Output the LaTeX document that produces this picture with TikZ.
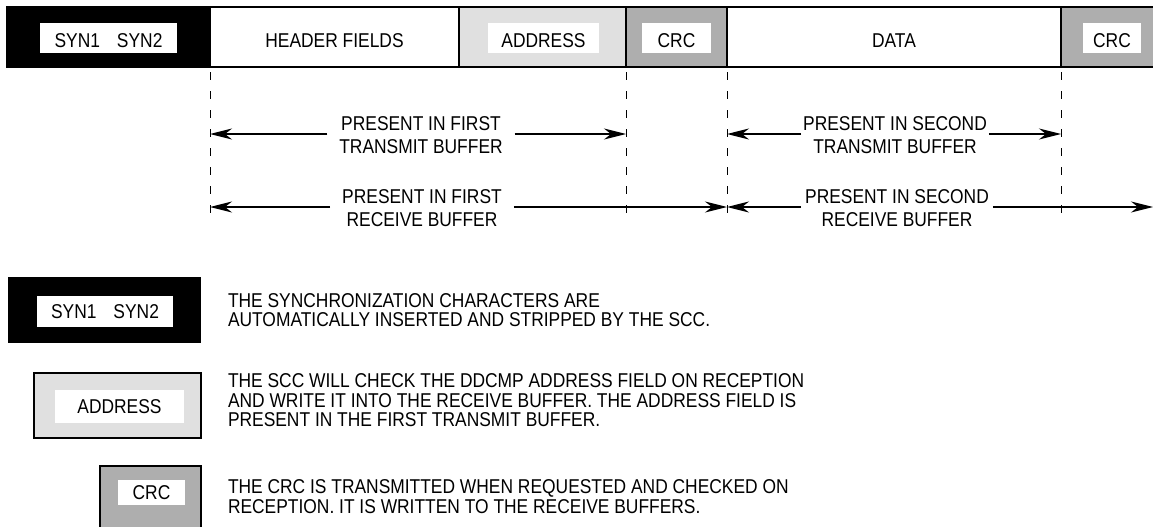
\documentclass[tikz,border=0pt]{standalone}
\usepackage{fontspec}
\setmainfont{Liberation Sans}[FakeStretch=0.87]
\usetikzlibrary{arrows.meta}
\definecolor{lightfill}{HTML}{E0E0E0}
\definecolor{midfill}{HTML}{AEAEAE}
\begin{document}
\begin{tikzpicture}[x=1pt,y=-1pt,
  every node/.style={font=\fontsize{20}{19.5}\selectfont, text=black, inner sep=0pt, outer sep=0pt},
  seg/.style={draw=black, line width=1.8pt, minimum height=60pt, anchor=north west, text height=20.3pt, text depth=0pt},
  whitebox/.style={fill=white, minimum height=30pt, text height=18.3pt, text depth=0pt},
  legbox/.style={draw=black, line width=1.8pt},
  para/.style={anchor=west, align=left},
  lbl/.style={align=center, font=\fontsize{20}{23}\selectfont, fill=white},
  dashline/.style={line width=1pt, dash pattern=on 8pt off 11pt, dash phase=-5pt},
  arr/.style={line width=1.4pt, -{Stealth[length=22pt, width=11pt, inset=7pt]}}
]
\useasboundingbox (0,0) rectangle (1153,527);

% ---- frame bar ----
\node[seg, fill=black, minimum width=203pt] (syn) at (7,7) {};
\node[seg, fill=white, minimum width=249pt] (hdr) at (210,7) {HEADER FIELDS};
\node[seg, fill=lightfill, minimum width=167pt] (adr) at (459,7) {};
\node[seg, fill=midfill, minimum width=101pt] (crca) at (626,7) {};
\node[seg, fill=white, minimum width=334pt] (dat) at (727,7) {DATA};
\node[seg, fill=midfill, minimum width=110pt] (crcb) at (1061,7) {};

\node[whitebox, minimum width=137pt] (synw) at (108.5,38) {SYN1\hspace{17pt}SYN2};
\node[whitebox, minimum width=111pt] (adrw) at (543.5,38) {ADDRESS};
\node[whitebox, minimum width=69pt] (crcaw) at (676.5,38) {CRC};
\node[whitebox, minimum width=58pt] (crcbw) at (1112,38) {CRC};

% ---- dashed boundary lines ----
\coordinate (ab) at (210,223);
\coordinate (bb) at (626,223);
\coordinate (cb) at (727,223);
\coordinate (db) at (1061,223);
\draw[dashline] (hdr.south west) -- (ab);
\draw[dashline] (crca.south west) -- (bb);
\draw[dashline] (dat.south west) -- (cb);
\draw[dashline] (crcb.south west) -- (db);

% ---- arrow end points ----
\coordinate (a1) at (210,134);
\coordinate (b1) at (626,134);
\coordinate (c1) at (727,134);
\coordinate (d1) at (1061,134);
\coordinate (a2) at (210,207);
\coordinate (c2) at (727,207);
\coordinate (e2) at (1153,207);

% ---- buffer labels ----
\node[lbl, inner xsep=12pt] (lt1) at (421,135) {PRESENT IN FIRST\\TRANSMIT BUFFER};
\node[lbl, inner xsep=2pt] (lt2) at (895,135) {PRESENT IN SECOND\\TRANSMIT BUFFER};
\node[lbl, inner xsep=12pt] (lr1) at (422,208) {PRESENT IN FIRST\\RECEIVE BUFFER};
\node[lbl, inner xsep=4pt] (lr2) at (897,208) {PRESENT IN SECOND\\RECEIVE BUFFER};

\draw[arr] (lt1.west |- a1) -- (a1);
\draw[arr] (lt1.east |- b1) -- (b1);
\draw[arr] (lt2.west |- c1) -- (c1);
\draw[arr] (lt2.east |- d1) -- (d1);
\draw[arr] (lr1.west |- a2) -- (a2);
\draw[arr] (lr1.east |- c2) -- (c2);
\draw[arr] (lr2.west |- c2) -- (c2);
\draw[arr] (lr2.east |- e2) -- (e2);

% ---- legend ----
\node[fill=black, minimum width=193pt, minimum height=66pt] (synl) at (104.5,310) {};
\node[fill=white, minimum width=136pt, minimum height=31pt] (synlw) at (105,311.5) {SYN1\hspace{17pt}SYN2};
\node[legbox, fill=lightfill, minimum width=167pt, minimum height=65pt] (adrl) at (117.5,405.5) {};
\node[fill=white, minimum width=129pt, minimum height=33pt] (adrlw) at (119.5,406.5) {ADDRESS};
\node[legbox, fill=midfill, minimum width=101pt, minimum height=70pt, anchor=north west] (crcl) at (100,466) {};
\node[fill=white, minimum width=67pt, minimum height=25pt] (crclw) at (151.5,492.5) {CRC};

\node[para] (p1) at (228,310) {THE SYNCHRONIZATION CHARACTERS ARE\\AUTOMATICALLY INSERTED AND STRIPPED BY THE SCC.};
\node[para] (p2) at (228,400.5) {THE SCC WILL CHECK THE DDCMP ADDRESS FIELD ON RECEPTION\\AND WRITE IT INTO THE RECEIVE BUFFER. THE ADDRESS FIELD IS\\PRESENT IN THE FIRST TRANSMIT BUFFER.};
\node[para] (p3) at (228,496.5) {THE CRC IS TRANSMITTED WHEN REQUESTED AND CHECKED ON\\RECEPTION. IT IS WRITTEN TO THE RECEIVE BUFFERS.};
\end{tikzpicture}
\end{document}
